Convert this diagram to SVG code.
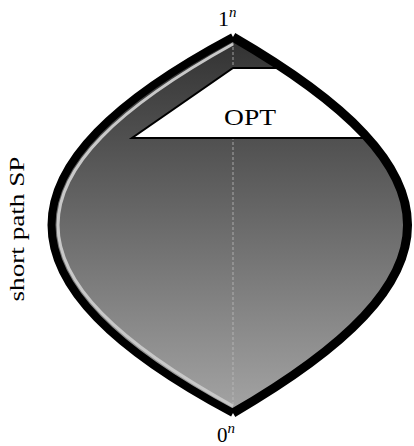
<svg xmlns="http://www.w3.org/2000/svg" width="414" height="446" viewBox="0 0 414 446">
  <defs>
    <linearGradient id="g" x1="0" y1="37" x2="0" y2="413" gradientUnits="userSpaceOnUse">
      <stop offset="0" stop-color="#313131"/>
      <stop offset="1" stop-color="#a4a4a4"/>
    </linearGradient>
    <style>
      .lbl { font-family: "Liberation Serif", "Times New Roman", serif; fill: #000; }
      .sup { font-style: italic; }
      .edge { fill: none; stroke: #000; stroke-linecap: butt; }
    </style>
  </defs>
  <rect width="414" height="446" fill="#fff"/>

  <g id="region">
    <path d="M233,37 C-9,166 -9,284 233,413 C465.7,278 465.7,172 233,37 Z" fill="url(#g)"/>
    <line x1="233" y1="37" x2="233" y2="413" stroke="#bdbdbd" stroke-width="0.8" stroke-dasharray="3 2"/>
  </g>

  <g id="opt">
    <path d="M233,68 L284,68 L368,138 L132,138 Z" fill="#fff" stroke="#000" stroke-width="2" stroke-linejoin="miter"/>
    <text class="lbl" x="250" y="124.5" font-size="24" text-anchor="middle" textLength="52" lengthAdjust="spacingAndGlyphs">OPT</text>
  </g>

  <g id="connectors">
    <path id="sp-outline" class="edge" d="M233,37 C-9,166 -9,284 233,413" stroke-width="8"/>
    <path id="sp-path" d="M233,44 C-0.3,173 -0.3,277 233,406" fill="none" stroke="#c8c8c8" stroke-width="3"/>
    <path id="right-outline" class="edge" d="M233,37 C465.7,172 465.7,278 233,413" stroke-width="9"/>
  </g>

  <g id="top-label">
    <text class="lbl" x="218" y="26" font-size="22">1<tspan class="sup" font-size="15" dy="-9">n</tspan></text>
  </g>
  <g id="bottom-label">
    <text class="lbl" x="217" y="441.5" font-size="21">0<tspan class="sup" font-size="15" dy="-9">n</tspan></text>
  </g>
  <g id="sp-label">
    <text class="lbl" transform="translate(23.5,229) rotate(-90)" font-size="22" text-anchor="middle" textLength="145" lengthAdjust="spacingAndGlyphs">short path SP</text>
  </g>
</svg>
